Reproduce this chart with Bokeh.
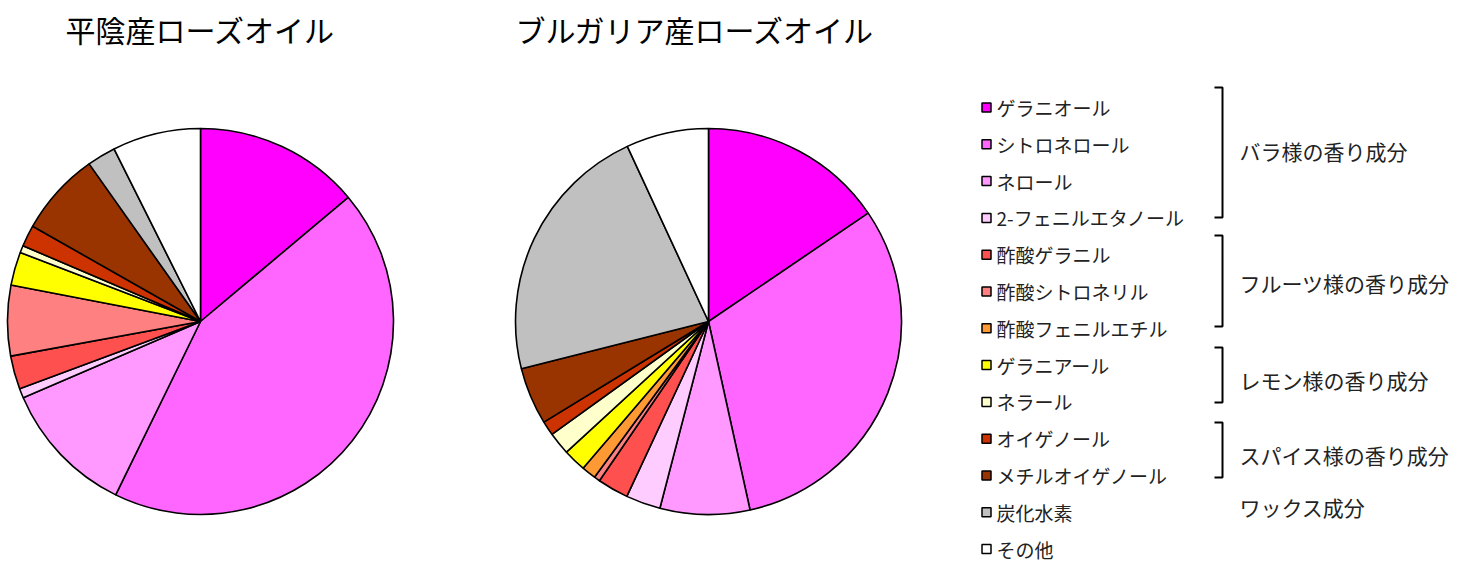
import math
from bokeh.plotting import figure
from bokeh.models import Range1d
from bokeh.core.properties import value
from bokeh.embed import file_html
from bokeh.resources import INLINE

# components (legend order)
components = ["ゲラニオール", "シトロネロール", "ネロール", "2-フェニルエタノール",
              "酢酸ゲラニル", "酢酸シトロネリル", "酢酸フェニルエチル",
              "ゲラニアール", "ネラール", "オイゲノール", "メチルオイゲノール",
              "炭化水素", "その他"]
colors = ["#FF00FF", "#FF66FF", "#FF99FF", "#FFCCFF", "#FF5050", "#FF8080",
          "#FF9933", "#FFFF00", "#FFFFCC", "#CC3300", "#993300", "#C0C0C0",
          "#FFFFFF"]

# percentages
heiin = [13.9, 43.4, 11.3, 0.8, 2.8, 5.9, 0.0, 2.8, 0.6, 1.8, 7.0, 2.4, 7.4]
bulgaria = [15.5, 31.0, 7.5, 2.9, 2.6, 0.5, 1.2, 1.9, 1.9, 1.2, 4.8, 22.0, 6.9]

titles = ["平陰産ローズオイル", "ブルガリア産ローズオイル"]

groups = ["バラ様の香り成分", "フルーツ様の香り成分", "レモン様の香り成分",
          "スパイス様の香り成分", "ワックス成分"]

FONT = value("Noto Sans CJK JP")
W, H = 1450, 562


def fy(ry):
    # picture row -> data y
    return H - ry


def draw_pie(p, cx, cy, r, vals):
    total = float(sum(vals))
    starts, ends, cols = [], [], []
    acc = 0.0
    for v, c in zip(vals, colors):
        if v <= 0:
            continue
        a0 = math.pi / 2 - (acc + v) / total * 2 * math.pi
        a1 = math.pi / 2 - acc / total * 2 * math.pi
        starts.append(a0)
        ends.append(a1)
        cols.append(c)
        acc += v
    p.wedge(x=cx, y=cy, radius=r, start_angle=starts, end_angle=ends,
            fill_color=cols, line_color="black", line_width=1.6)


p = figure(width=W, height=H, x_range=Range1d(0, W), y_range=Range1d(0, H),
           output_backend="svg", toolbar_location=None, min_border=0)
p.axis.visible = False
p.grid.visible = False
p.outline_line_color = None

draw_pie(p, 200, fy(321), 193, heiin)
draw_pie(p, 708, fy(321), 193, bulgaria)

p.text(x=[200, 695], y=[fy(28), fy(28)], text=titles, text_align="center",
       text_baseline="middle", text_font=FONT, text_font_size="30px",
       text_color="black")

# legend block sits a little higher so the last row fits
dy = 8
rows = [fy(115 - dy + i * 36.8) for i in range(len(components))]
p.rect(x=[986] * len(rows), y=rows, width=9, height=9, fill_color=colors,
       line_color="black", line_width=1.5)
p.text(x=[996] * len(rows), y=rows, text=components, text_baseline="middle",
       text_font=FONT, text_font_size="19px", text_color="#222222")

# brackets
spans = [(95, 225), (243, 334), (355, 410), (430, 485)]
bx, by = [], []
for top, bot in spans:
    bx.append([1214, 1222, 1222, 1214])
    by.append([fy(top - dy), fy(top - dy), fy(bot - dy), fy(bot - dy)])
p.multi_line(xs=bx, ys=by, line_color="black", line_width=2)

gy = [fy(r - dy) for r in (158, 290, 387, 462, 514)]
p.text(x=[1239] * len(gy), y=gy, text=groups, text_baseline="middle",
       text_font=FONT, text_font_size="21px", text_color="#222222")

open("out.html", "w").write(file_html(p, INLINE))
